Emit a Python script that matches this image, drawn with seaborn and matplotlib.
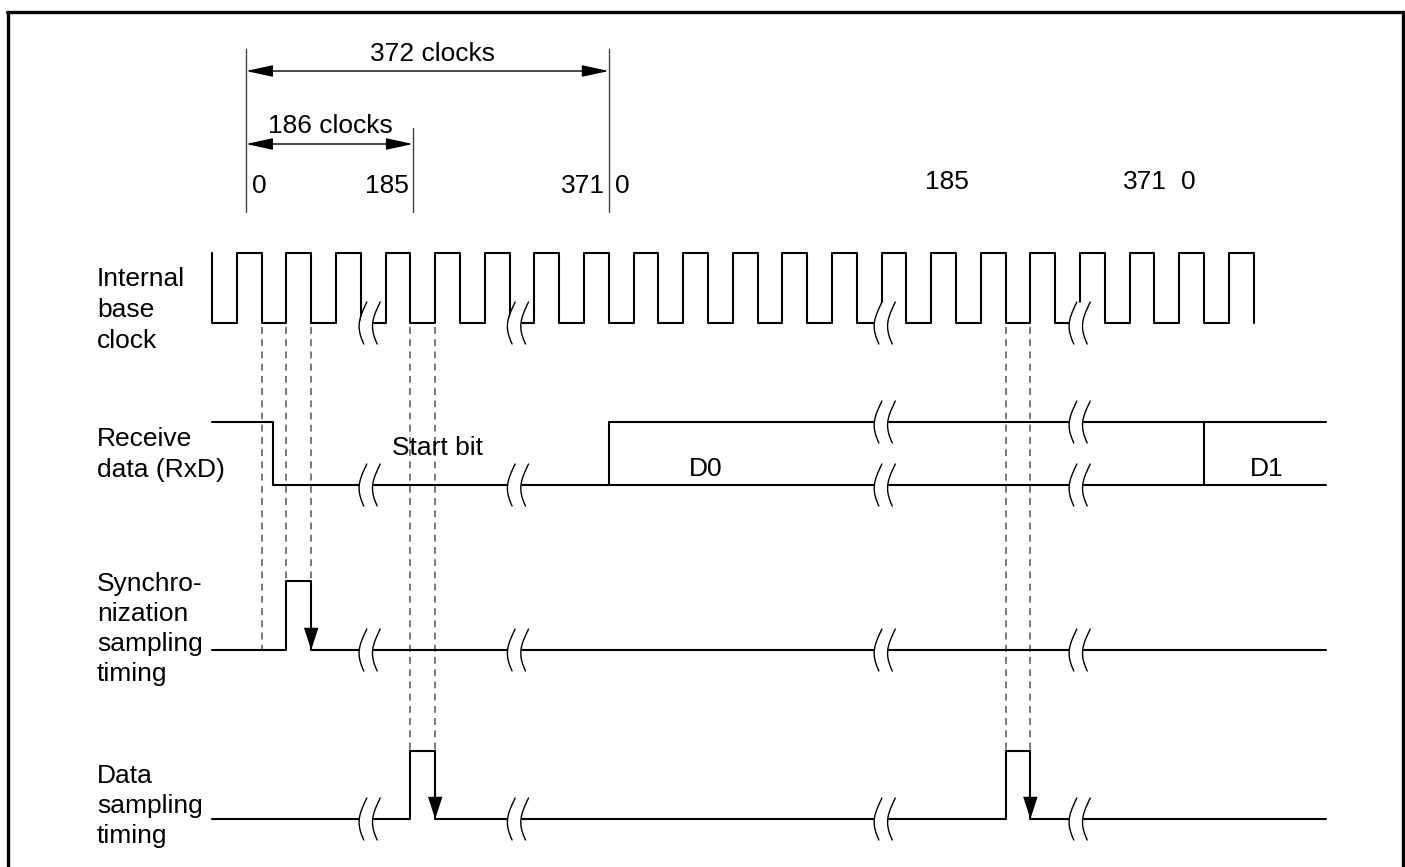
import numpy as np
import matplotlib
matplotlib.use("Agg")
import matplotlib.pyplot as plt
from matplotlib.lines import Line2D
import seaborn as sns

# time axis is counted in half periods of the internal base clock
CLOCK_EDGES = [0, 1, 2, 3, 4, 5, 6, 7, 8, 9, 10, 11, 12, 13, 14, 15, 16, 17, 18, 19, 20,
               21, 22, 23, 24, 25, 26, 27, 28, 29, 30, 31, 32, 33, 34, 35, 36, 37, 38, 39,
               40, 41, 42]
RXD_EDGES = [2.46]
RXD_D0_START = 16.0
RXD_D1_START = 40.0
TRACE_END = 44.9
SYNC_EDGES = [3, 4]
DATA_EDGES = [8, 9, 32, 33]
BREAKS = [6.33, 12.31, 27.1, 34.96]
BUS_BREAKS = [27.1, 34.96]

# dashed guide lines: clock edge -> target row level
GUIDE_T = [2, 3, 4, 8, 9, 32, 33]
GUIDE_TO = ["sync_lo", "sync_hi", "sync_hi", "data_hi", "data_hi", "data_hi", "data_hi"]

# counter ruler on top
RULER_T = [1.37, 8.1, 16.0]
COUNT_LABELS = ["0", "185", "371", "0", "185", "371", "0"]
COUNT_T = [1.90, 7.06, 14.96, 16.53, 29.64, 37.62, 39.35]
SPAN_LABELS = ["372 clocks", "186 clocks"]
SPAN_FROM = [1.37, 1.37]
SPAN_TO = [16.0, 8.1]

ROW_LABELS = [["Internal", "base", "clock"],
              ["Receive", "data (RxD)"],
              ["Synchro-", "nization", "sampling", "timing"],
              ["Data", "sampling", "timing"]]

# layout (pixels on the 1405x867 canvas)
W, H = 1405, 867
X0, HALF = 212.0, 24.8
LEV = {"clk_hi": 253, "clk_lo": 323, "rxd_hi": 422, "rxd_lo": 485,
       "sync_hi": 581, "sync_lo": 650, "data_hi": 751, "data_lo": 819}


def px(x):
    return (x - X0) / HALF


def wave(edges, start, t0, t1, hi, lo):
    xs, ys, lv = [t0], [hi if start else lo], start
    for e in edges:
        xs += [e, e]
        ys += [hi if lv else lo, lo if lv else hi]
        lv = 1 - lv
    xs.append(t1)
    ys.append(hi if lv else lo)
    return xs, ys


sns.set_theme(style="white")
plt.rcParams["font.family"] = ["Liberation Sans", "DejaVu Sans"]
plt.rcParams["text.color"] = "black"
FS = 19

fig = plt.figure(figsize=(W / 100, H / 100), dpi=100)
ax = fig.add_axes([0, 0, 1, 1])
ax.set_xlim(px(0), px(W))
ax.set_ylim(H, 0)
ax.axis("off")

line_kw = dict(sort=False, estimator=None, color="black", linewidth=1.5, legend=False, ax=ax)

# signals
xs, ys = wave(CLOCK_EDGES, 1, 0, CLOCK_EDGES[-1], LEV["clk_hi"], LEV["clk_lo"])
sns.lineplot(x=xs, y=ys, **line_kw)
xs, ys = wave(RXD_EDGES, 1, 0, TRACE_END, LEV["rxd_hi"], LEV["rxd_lo"])
sns.lineplot(x=xs, y=ys, **line_kw)
sns.lineplot(x=[RXD_D0_START, RXD_D0_START, TRACE_END],
             y=[LEV["rxd_lo"], LEV["rxd_hi"], LEV["rxd_hi"]], **line_kw)
sns.lineplot(x=[RXD_D1_START, RXD_D1_START], y=[LEV["rxd_lo"], LEV["rxd_hi"]], **line_kw)
xs, ys = wave(SYNC_EDGES, 0, 0, TRACE_END, LEV["sync_hi"], LEV["sync_lo"])
sns.lineplot(x=xs, y=ys, **line_kw)
xs, ys = wave(DATA_EDGES, 0, 0, TRACE_END, LEV["data_hi"], LEV["data_lo"])
sns.lineplot(x=xs, y=ys, **line_kw)

# arrows on the falling edge of the sampling pulses
head = dict(arrowstyle="-|>,head_length=0.8,head_width=0.26", mutation_scale=20,
            color="black", lw=0, shrinkA=0, shrinkB=0)
for t in SYNC_EDGES[1::2]:
    ax.annotate("", xy=(t, LEV["sync_lo"]), xytext=(t, LEV["sync_lo"] - 23), arrowprops=head)
for t in DATA_EDGES[1::2]:
    ax.annotate("", xy=(t, LEV["data_lo"]), xytext=(t, LEV["data_lo"] - 23), arrowprops=head)

# dashed guides
for t, to in zip(GUIDE_T, GUIDE_TO):
    ax.plot([t, t], [LEV["clk_lo"] + 4, LEV[to]], color="#555555", lw=1.1,
            ls=(0, (4.5, 3.5)), zorder=1)


def draw_break(t, y):
    # two "(" shaped cut marks with the trace blanked between them
    s = np.linspace(0, 1, 40)
    yy = y - 21 + 42 * s
    dx = (3 - 6 * np.sin(np.pi * s) + 1.5 * np.cos(np.pi * s)) / HALF
    left, right = t - 0.27 + dx, t + 0.27 + dx
    ax.fill_betweenx(yy, left, right, color="white", zorder=4, lw=0)
    ax.plot(left, yy, color="black", lw=1.0, zorder=5)
    ax.plot(right, yy, color="black", lw=1.0, zorder=5)


for t in BREAKS:
    for row in ["clk_lo", "rxd_lo", "sync_lo", "data_lo"]:
        draw_break(t, LEV[row])
for t in BUS_BREAKS:
    draw_break(t, LEV["rxd_hi"])

# ruler on top
ruler_top = [49, 128, 49]
for t, top in zip(RULER_T, ruler_top):
    ax.plot([t, t], [top, 212], color="#444444", lw=1.0)
span_y = [71, 144]
span_text_x = [8.91, 4.76]
span_text_y = [61, 133]
dim = dict(arrowstyle="<|-|>,head_length=0.83,head_width=0.18", mutation_scale=20,
           color="black", lw=1.0, shrinkA=0, shrinkB=0)
for lab, a, b, y, tx, ty in zip(SPAN_LABELS, SPAN_FROM, SPAN_TO, span_y, span_text_x, span_text_y):
    ax.annotate("", xy=(b, y), xytext=(a, y), arrowprops=dim)
    ax.text(tx, ty, lab, fontsize=FS, ha="center", va="baseline")
count_y = [193, 193, 193, 193, 189, 189, 189]
for lab, t, y in zip(COUNT_LABELS, COUNT_T, count_y):
    ax.text(t, y, lab, fontsize=FS, ha="center", va="baseline")

# in-trace labels
ax.text(px(437), 455, "Start bit", fontsize=FS, ha="center", va="baseline")
ax.text(px(706), 476, "D0", fontsize=FS, ha="center", va="baseline")
ax.text(px(1267), 476, "D1", fontsize=FS, ha="center", va="baseline")

# row labels on the left
label_base = [286, 446, 591, 783]
label_step = [31, 31, 30, 30]
for lines, y0, dy in zip(ROW_LABELS, label_base, label_step):
    for i, s in enumerate(lines):
        ax.text(px(97), y0 + i * dy, s, fontsize=FS, ha="left", va="baseline")

# frame around the figure
fkw = dict(transform=fig.transFigure, color="black", lw=2.4)
fig.add_artist(Line2D([7 / W, 1], [1 - 12 / H, 1 - 12 / H], **fkw))
fig.add_artist(Line2D([8 / W, 8 / W], [0, 1 - 12 / H], **fkw))
fig.add_artist(Line2D([1403 / W, 1403 / W], [0, 1 - 12 / H], **fkw))

fig.savefig("out.png", dpi=100)
